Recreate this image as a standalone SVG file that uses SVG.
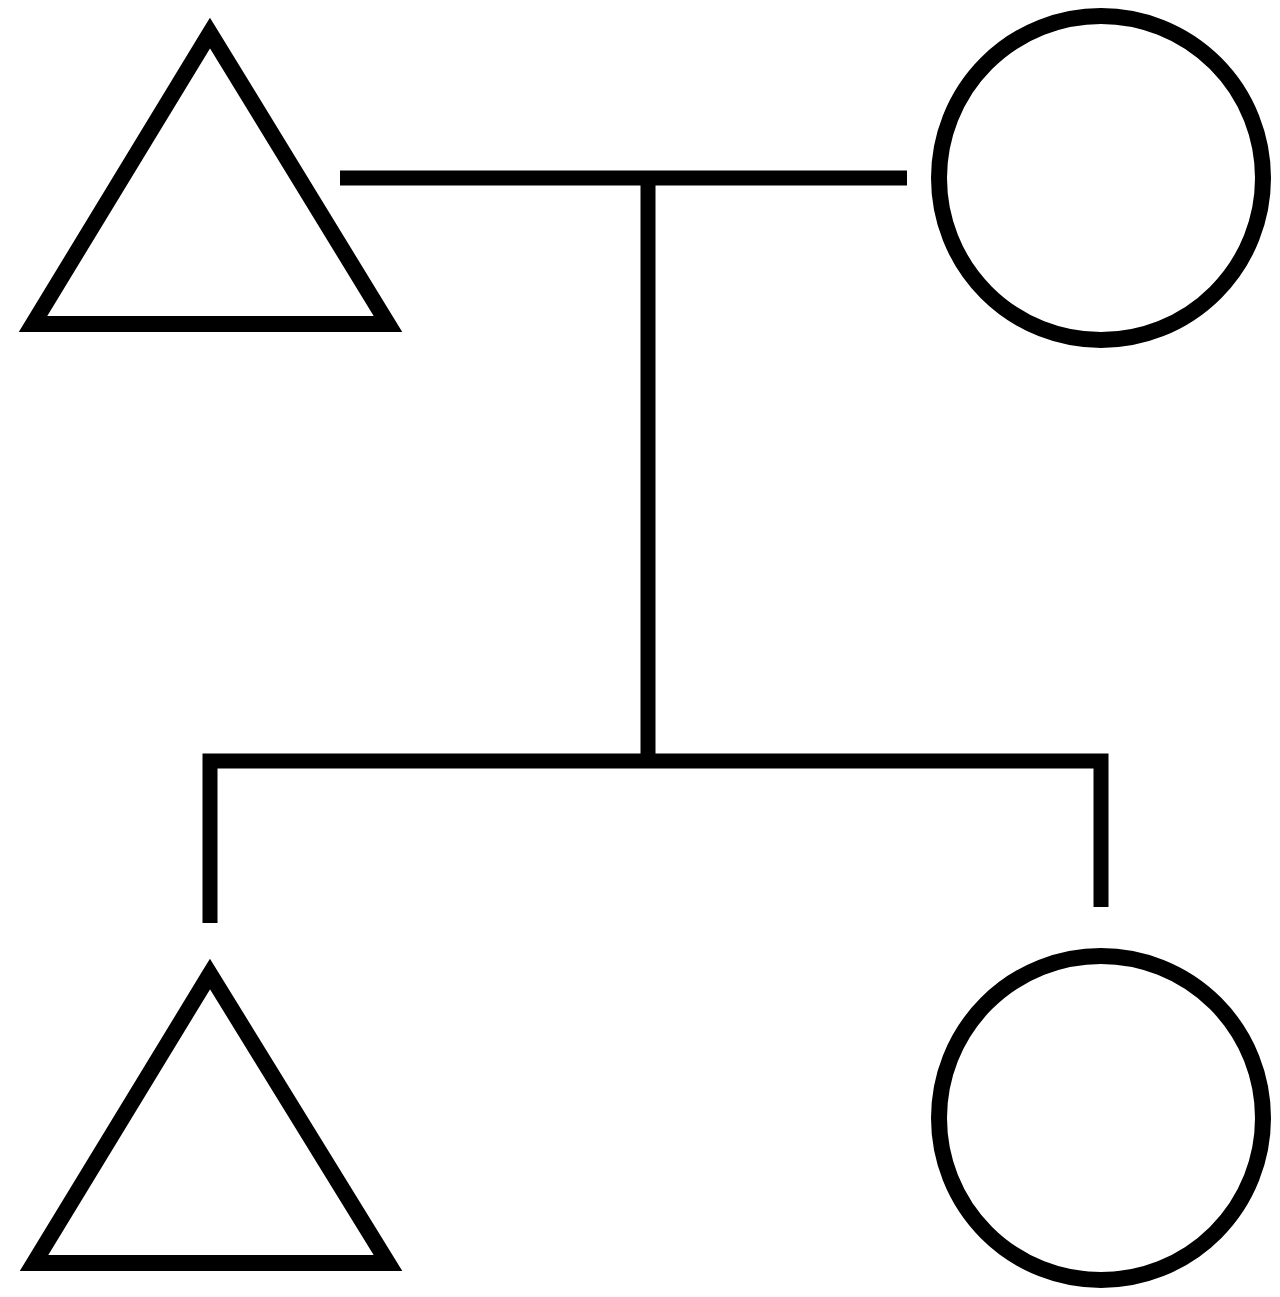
<svg xmlns="http://www.w3.org/2000/svg" width="1280" height="1297" viewBox="0 0 1280 1297">
<style>
.s{fill:none;stroke:#000;stroke-width:16;}
.c{fill:none;stroke:#000;stroke-width:15;}
</style>
<rect width="1280" height="1297" fill="#fff"/>
<g id="father"><polygon class="s" points="210,33 33,324 388,324"/></g>
<g id="mother"><circle class="s" cx="1101" cy="178" r="162"/></g>
<g id="son"><polygon class="s" points="210,974 34,1263 388,1263"/></g>
<g id="daughter"><circle class="s" cx="1101" cy="1118" r="162"/></g>
<g id="connectors">
<line class="c" x1="340" y1="178" x2="907" y2="178"/>
<line class="c" x1="648" y1="178" x2="648" y2="755"/>
<polyline class="c" points="210,923 210,761 1101,761 1101,907"/>
</g>
</svg>
